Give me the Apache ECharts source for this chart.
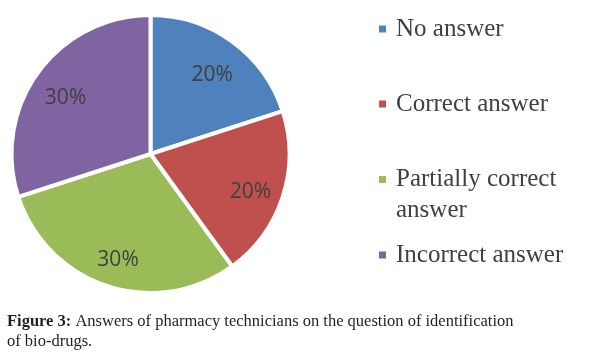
<!DOCTYPE html>
<html>
<head>
<meta charset="utf-8">
<script src="https://cdn.jsdelivr.net/npm/echarts@6/dist/echarts.min.js"></script>
<style>html,body{margin:0;padding:0;background:#fff;}#c{width:590px;height:364px;}</style>
</head>
<body>
<div id="c"></div>
<script>
const categories = ['No answer', 'Correct answer', 'Partially correct answer', 'Incorrect answer'];
const values = [20, 20, 30, 30];
const colors = ['#4F81BD', '#C0504D', '#9BBB59', '#8064A2'];
const legendTops = [13.5, 88.5, 133, 239.5];

const chart = echarts.init(document.getElementById('c'));
const data = categories.map((n, i) => ({ name: n, value: values[i], itemStyle: { color: colors[i] } }));
const center = [150.5, 154];

const legends = categories.map((n, i) => ({
  data: [n],
  orient: 'vertical',
  left: 377,
  top: legendTops[i],
  padding: 0,
  itemWidth: 9,
  itemHeight: 9,
  icon: 'rect',
  selectedMode: false,
  formatter: nm => nm === 'Partially correct answer' ? '\u00a0\nPartially correct\nanswer' : nm,
  textStyle: {
    fontFamily: 'Liberation Serif',
    fontSize: 25,
    lineHeight: 31,
    color: '#404040',
    padding: [0, 0, 0, 4]
  }
}));

chart.setOption({
  animation: false,
  title: {
    left: 7,
    top: 312,
    padding: 0,
    text: '{b|Figure 3:} Answers of pharmacy technicians on the question of identification\nof bio-drugs.',
    textStyle: {
      fontFamily: 'Liberation Serif',
      fontSize: 16.5,
      lineHeight: 20,
      fontWeight: 'normal',
      color: '#231F20',
      rich: {
        b: { fontFamily: 'Liberation Serif', fontSize: 16.5, lineHeight: 20, fontWeight: 'bold', color: '#231F20' }
      }
    }
  },
  legend: legends,
  series: [
    {
      type: 'pie',
      center: center,
      radius: [0, 139],
      startAngle: 90,
      clockwise: true,
      silent: true,
      label: { show: false },
      labelLine: { show: false },
      itemStyle: { borderColor: '#ffffff', borderWidth: 4 },
      emphasis: { disabled: true },
      data: data
    },
    {
      type: 'pie',
      center: center,
      radius: [67, 137],
      startAngle: 90,
      clockwise: true,
      silent: true,
      itemStyle: { color: 'transparent', borderWidth: 0 },
      emphasis: { disabled: true },
      label: {
        show: true,
        position: 'inside',
        formatter: '{s|\u00a0}\n{t|{d}%}',
        rich: {
          s: { fontSize: 1, lineHeight: 12 },
          t: { fontFamily: 'Open Sans', fontSize: 21, lineHeight: 24, color: '#404040' }
        }
      },
      labelLine: { show: false },
      data: categories.map((n, i) => ({ name: n, value: values[i] }))
    }
  ]
});
</script>
</body>
</html>
